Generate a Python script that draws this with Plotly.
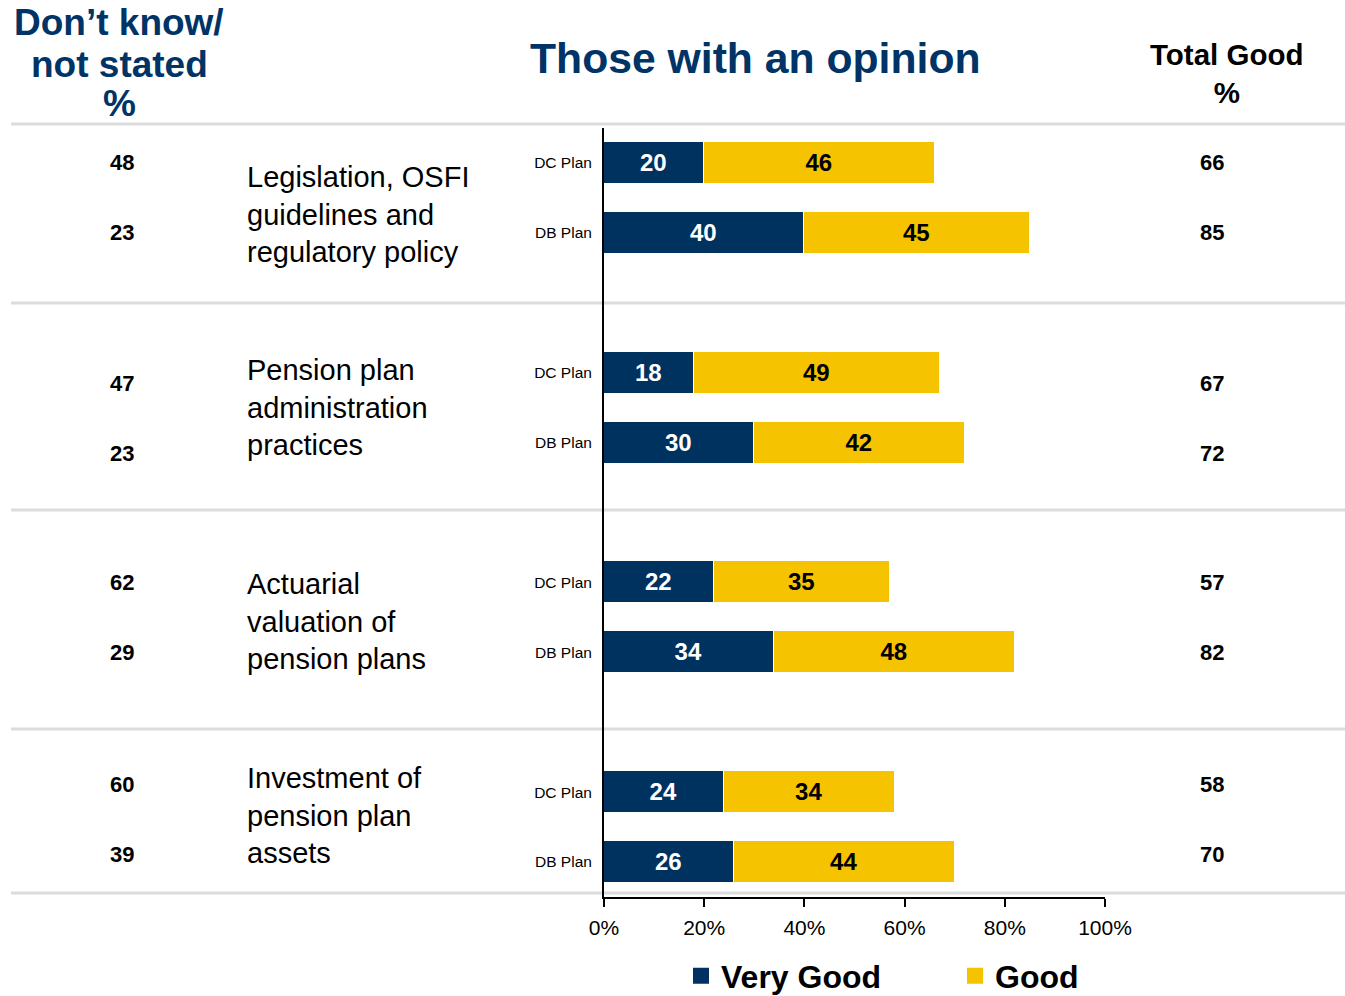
import plotly.graph_objects as go

# Survey results: rating of OSFI activities by plan type
topics = [
    "Legislation, OSFI<br>guidelines and<br>regulatory policy",
    "Pension plan<br>administration<br>practices",
    "Actuarial<br>valuation of<br>pension plans",
    "Investment of<br>pension plan<br>assets",
]
plans = ["DC Plan", "DB Plan"]

very_good = [[20, 40], [18, 30], [22, 34], [24, 26]]
good = [[46, 45], [49, 42], [35, 48], [34, 44]]
total_good = [[66, 85], [67, 72], [57, 82], [58, 70]]
dont_know = [[48, 23], [47, 23], [62, 29], [60, 39]]

x_ticks = [0, 20, 40, 60, 80, 100]
x_tick_text = ["0%", "20%", "40%", "60%", "80%", "100%"]

NAVY = "#00325F"
GOLD = "#F6C300"
HEAD = "#003366"
FONT = "Liberation Sans, Arial, sans-serif"

W, H = 1345, 996

# each topic takes three slots on the y axis: DC, DB and a gap row
pos, vg, gd, tick_text = [], [], [], []
for g in range(len(topics)):
    for p in range(len(plans)):
        pos.append(g * 3 + p)
        vg.append(very_good[g][p])
        gd.append(good[g][p])
        tick_text.append(plans[p])

fig = go.Figure()
for name, vals, color, tcolor in [("Very Good", vg, NAVY, "white"),
                                   ("Good", gd, GOLD, "black")]:
    fig.add_trace(go.Bar(
        y=pos, x=vals, orientation="h", name=name, showlegend=False,
        marker=dict(color=color, line=dict(color="white", width=1.5)),
        width=0.6, text=vals, texttemplate="%{text}", textposition="inside",
        insidetextanchor="middle", textangle=0,
        textfont=dict(family=FONT, size=24, color=tcolor, weight="bold"),
        hoverinfo="skip",
    ))
    # legend entry with a larger square swatch
    fig.add_trace(go.Scatter(
        x=[None], y=[None], mode="markers", name=name,
        marker=dict(symbol="square", size=16, color=color),
    ))

# small vertical nudges per topic block for the side columns
row_shift = [0, -11, 0, 8]
topic_shift = [-17, 0, -4, 12]

ann = []
for g in range(len(topics)):
    for p in range(len(plans)):
        yv = g * 3 + p
        ann.append(dict(x=122 / W, xref="paper", y=yv, yref="y", yshift=row_shift[g],
                        text=str(dont_know[g][p]), showarrow=False, xanchor="center",
                        font=dict(family=FONT, size=22, color="black", weight="bold")))
        ann.append(dict(x=1212 / W, xref="paper", y=yv, yref="y", yshift=row_shift[g],
                        text=str(total_good[g][p]), showarrow=False, xanchor="center",
                        font=dict(family=FONT, size=22, color="black", weight="bold")))
    ann.append(dict(x=245 / W, xref="paper", y=g * 3 + 0.5, yref="y", yshift=topic_shift[g],
                    text=topics[g], showarrow=False, xanchor="left", align="left",
                    yanchor="middle",
                    font=dict(family=FONT, size=29, color="black")))

# column headers
for line, py in [("Don’t know/", 22), ("not stated", 64), ("%", 104)]:
    ann.append(dict(x=119 / W, xref="paper", y=1 - py / H, yref="paper",
                    text=line, showarrow=False, xanchor="center", yanchor="middle",
                    font=dict(family=FONT, size=37, color=HEAD, weight="bold")))
ann.append(dict(x=756 / W, xref="paper", y=1 - 58 / H, yref="paper",
                text="Those with an opinion", showarrow=False,
                xanchor="center", yanchor="middle",
                font=dict(family=FONT, size=42.7, color=HEAD, weight="bold")))
ann.append(dict(x=1226 / W, xref="paper", y=1 - 73.5 / H, yref="paper",
                text="Total Good<br>%", showarrow=False,
                xanchor="center", yanchor="middle", align="center",
                font=dict(family=FONT, size=29.5, color="black", weight="bold")))

# grey separators between topic blocks
shapes = []
for py in [124, 303, 510, 729, 893]:
    shapes.append(dict(type="line", xref="paper", yref="paper",
                       x0=11 / W, x1=1, y0=1 - py / H, y1=1 - py / H,
                       line=dict(color="#DCDCDC", width=3), layer="below"))

fig.update_layout(
    width=W, height=H, autosize=False,
    margin=dict(l=0, r=0, t=0, b=0, autoexpand=False),
    paper_bgcolor="white", plot_bgcolor="white",
    barmode="stack", bargap=0,
    font=dict(family=FONT, color="black"),
    showlegend=True,
    legend=dict(orientation="h", x=681 / W, xanchor="left",
                y=1 - 976 / H, yanchor="middle",
                font=dict(family=FONT, size=32, color="black", weight="bold"),
                entrywidth=229, entrywidthmode="pixels",
                bgcolor="rgba(0,0,0,0)", traceorder="normal"),
    xaxis=dict(domain=[604 / W, 1105 / W], range=[0, 100],
               tickmode="array", tickvals=x_ticks, ticktext=x_tick_text,
               ticks="outside", ticklen=8, tickwidth=2, tickcolor="black",
               ticklabelstandoff=3,
               showline=True, linecolor="black", linewidth=2,
               showgrid=False, zeroline=False,
               tickfont=dict(family=FONT, size=21, color="black")),
    yaxis=dict(domain=[1 - 897 / H, 1 - 128 / H], range=[10.5, -0.5],
               tickmode="array", tickvals=pos, ticktext=tick_text, ticks="",
               ticklabelstandoff=7,
               showline=True, linecolor="black", linewidth=2,
               showgrid=False, zeroline=False,
               tickfont=dict(family=FONT, size=15.5, color="black")),
    annotations=ann, shapes=shapes,
    uniformtext=dict(minsize=24, mode="show"),
)

fig.write_html("out.html")
